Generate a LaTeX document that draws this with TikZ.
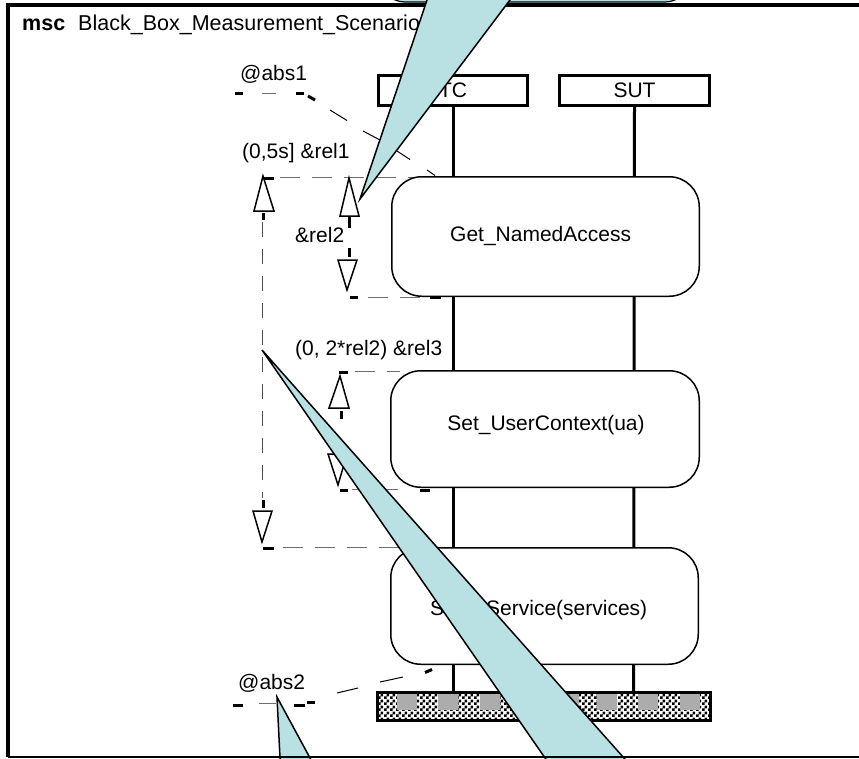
\documentclass[tikz,border=0pt]{standalone}
\usepackage{fontspec}
\setmainfont{Liberation Sans}
\usetikzlibrary{patterns}
\definecolor{calloutblue}{RGB}{185,224,227}
\definecolor{measgray}{RGB}{110,110,110}
\pgfdeclarepatternformonly{finechecker}{\pgfpointorigin}{\pgfqpoint{6pt}{6pt}}{\pgfqpoint{6pt}{6pt}}{%
  \pgfpathrectangle{\pgfpointorigin}{\pgfqpoint{3pt}{3pt}}%
  \pgfpathrectangle{\pgfqpoint{3pt}{3pt}}{\pgfqpoint{3pt}{3pt}}%
  \pgfusepath{fill}}
\begin{document}
\begin{tikzpicture}[x=1pt,y=-1pt,
  lbl/.style={font=\fontsize{21}{25}\selectfont, inner sep=0pt},
  headbox/.style={draw, line width=3pt, fill=white, inner sep=0pt, font=\fontsize{21}{25}\selectfont},
  actbox/.style={draw, line width=1.5pt, fill=white, rounded corners=30pt, inner sep=0pt},
  lifeline/.style={line width=3pt},
  meas/.style={draw=measgray, line width=1pt, dash pattern=on 20pt off 12pt},
  measv/.style={draw=measgray!70!black, line width=1pt, dash pattern=on 15pt off 12pt},
  diagdash/.style={draw=black, line width=1pt},
  mtick/.style={line width=3pt},
  openarrow/.style={draw, line width=1.5pt, fill=white, line join=miter},
  calloutshape/.style={draw, fill=calloutblue, line width=1.5pt, line join=miter},
]
\useasboundingbox (0,0) rectangle (859,758);
\clip (0,0) rectangle (859,758);

% frame
\coordinate (ftl) at (8,5);
\coordinate (ftr) at (880,5);
\coordinate (fbl) at (8,757);
\coordinate (fbr) at (880,757);
\draw[line width=4pt] (ftr) -- (ftl) -- (fbl);

% title
\node[inner sep=0pt, font=\fontsize{21.5}{25}\selectfont, anchor=base west] (title) at (22,30) {\textbf{msc}\hspace{13pt}Black\_Box\_Measurement\_Scenario};

% instance heads
\node[headbox, minimum width=149pt, minimum height=30pt] (tc) at (453,90.5) {TC};
\node[headbox, minimum width=150pt, minimum height=30pt] (sut) at (634.5,90.5) {SUT};
\coordinate (tcend) at (453,691);
\coordinate (sutend) at (633.5,691);
\draw[lifeline] (tc.south) -- (tcend);
\draw[lifeline] (sut.south) -- (sutend);

% ---- measurement @abs1
\coordinate (a1a) at (235,93);
\coordinate (a1b) at (243,93);
\draw[mtick] (a1a) -- (a1b);
\draw[meas] (262,93) -- (276,93);
\draw[mtick] (296,93) -- (304,93);
\draw[mtick] (308,96) -- (315,100);
\draw[diagdash] (330,110) -- (347,120.5);
\draw[diagdash] (363,131) -- (380,140);
\draw[diagdash] (397,151) -- (410,159.5);
\draw[diagdash] (427,170) -- (435,175.5);

% ---- rel1
\coordinate (r1a) at (280,177);
\coordinate (r1b) at (425,177);
\draw[mtick] (263,178) -- (274,178);
\draw[meas] (r1a) -- (r1b);
\draw[mtick] (263,213) -- (263,220);
\coordinate (r1v1) at (262,222);
\coordinate (r1v2) at (262,498);
\draw[measv] (r1v1) -- (r1v2);
\draw[mtick] (263,500) -- (263,508);
\draw[mtick] (263,548) -- (274,548);
\coordinate (r1c) at (283,547);
\coordinate (r1d) at (400,547);
\draw[meas] (r1c) -- (r1d);

% ---- rel2
\draw[mtick] (349,217) -- (349,228);
\draw[mtick] (349,248) -- (349,257);
\draw[mtick] (350,297.5) -- (358,297.5);
\coordinate (r2a) at (368,297);
\coordinate (r2b) at (425,297);
\draw[meas] (r2a) -- (r2b);

% ---- rel3
\draw[mtick] (339,372) -- (348,372);
\coordinate (r3a) at (355,371);
\coordinate (r3b) at (400,371);
\draw[meas] (r3a) -- (r3b);
\draw[mtick] (341,411) -- (341,419);
\draw[mtick] (340,490) -- (348,490);
\coordinate (r3c) at (352,489);
\coordinate (r3d) at (398,489);
\draw[meas] (r3c) -- (r3d);

% ---- @abs2
\draw[mtick] (233,705.5) -- (243,705.5);
\draw[meas] (259,703) -- (276,703);
\draw[mtick] (294,705.5) -- (305,705.5);
\draw[mtick] (307,702) -- (315,702);
\draw[diagdash] (337,693) -- (358,688);
\draw[diagdash] (380,682) -- (403,677);

% action boxes
\node[actbox, minimum width=307.5pt, minimum height=119.5pt] (act1) at (545.5,236.5) {};
\node[actbox, minimum width=308.5pt, minimum height=116.5pt] (act2) at (545,429) {};
\node[actbox, minimum width=307.5pt, minimum height=116.5pt] (act3) at (544.5,606) {};
\node[lbl, anchor=base west] (act1t) at (450,241) {Get\_NamedAccess};
\node[lbl, anchor=base] (act2t) at (546,430) {Set\_UserContext(ua)};
\node[lbl, anchor=base west] (act3t) at (430,615) {Start\_Service(services)};

% attachment marks on boxes
\draw[mtick] (430,297.5) -- (441,297.5);
\draw[mtick] (420,490) -- (430,490);
\draw[mtick] (425,672.5) -- (432,669.5);

% open arrowheads
\draw[openarrow] (263,176) -- (254,211) -- (274,211) -- cycle;
\draw[openarrow] (253,511) -- (272,511) -- (262,542) -- cycle;
\draw[openarrow] (349,178) -- (340,216) -- (359,216) -- cycle;
\draw[openarrow] (338,260) -- (357,260) -- (347,290) -- cycle;
\draw[openarrow] (340,376) -- (329,408) -- (349,408) -- cycle;
\draw[openarrow] (328,454) -- (347,454) -- (338,485) -- cycle;

% end bar
\node[fill=white, minimum width=333pt, minimum height=28pt, inner sep=0pt] (barbg) at (544,706.5) {};
\node[pattern=finechecker, minimum width=333pt, minimum height=28pt, inner sep=0pt] (barfill) at (544,706.5) {};
\foreach \xx in {397,438,480,521,559,597,638,680}
  \fill[gray!65] (\xx,694) rectangle (\xx+20,710);
\node[draw, line width=3pt, minimum width=333pt, minimum height=28pt, inner sep=0pt] (bar) at (544,706.5) {};

% labels
\node[lbl, anchor=base west] (abs1) at (240,80) {@abs1};
\node[lbl, anchor=base west] (rel1) at (242,158) {(0,5s] \&rel1};
\node[lbl, anchor=base west] (rel2) at (295,242) {\&rel2};
\node[lbl, anchor=base west] (rel3) at (295,355) {(0, 2*rel2) \&rel3};
\node[lbl, anchor=base west] (abs2) at (238,689) {@abs2};

% callouts
\draw[draw, fill=calloutblue, line width=1.2pt, rounded corners=25pt] (380,-80) rectangle (690,2);
\coordinate (c1tip) at (360,199);
\coordinate (c1l) at (430.4,-10);
\coordinate (c1r) at (517.5,-10);
\path[calloutshape] (c1tip) -- (c1l) -- (c1r) -- cycle;
\coordinate (c2tip) at (262,350);
\coordinate (c2l) at (553.4,770);
\coordinate (c2r) at (634.6,770);
\path[calloutshape] (c2tip) -- (c2l) -- (c2r) -- cycle;
\coordinate (c3tip) at (277,697);
\coordinate (c3l) at (280.6,770);
\coordinate (c3r) at (316.5,770);
\path[calloutshape] (c3tip) -- (c3l) -- (c3r) -- cycle;

% frame bottom
\draw[line width=2pt] (fbl) -- (fbr);
\end{tikzpicture}
\end{document}
